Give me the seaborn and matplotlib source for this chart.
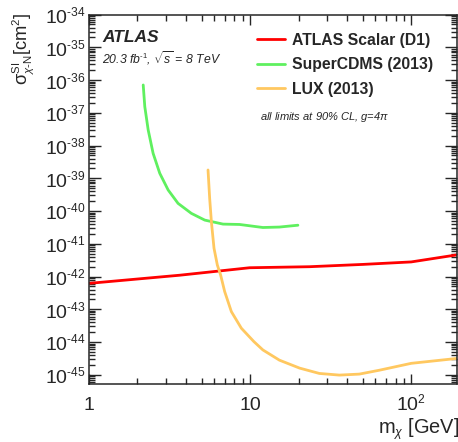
import numpy as np
import pandas as pd
import matplotlib
matplotlib.use('Agg')
import matplotlib.pyplot as plt
import matplotlib.ticker as mticker
import matplotlib._mathtext as mathtext_internals
import seaborn as sns

# values (log-log)
atlas_mass = [1, 3.66, 9.93, 23.4, 50, 100, 192]
atlas_xsec = [6.2e-43, 1.1e-42, 1.86e-42, 2.0e-42, 2.35e-42, 2.8e-42, 4.6e-42]

cdms_mass = [2.17, 2.22, 2.33, 2.50, 2.75, 3.10, 3.57, 4.32, 5.23, 6.79, 8.6, 12.0, 15.2, 19.8]
cdms_xsec = [7.1e-37, 1.54e-37, 3.0e-38, 5.8e-39, 1.42e-39, 4.4e-40, 1.72e-40, 8.5e-41, 5.3e-41,
             4.0e-41, 3.9e-41, 3.15e-41, 3.25e-41, 3.7e-41]

lux_mass = [5.48, 5.61, 5.75, 5.97, 6.26, 6.56, 6.95, 7.65, 8.82, 10.56, 12.0, 15.2, 20.3, 26.9,
            35.8, 47.6, 63.4, 100, 192]
lux_xsec = [1.8e-39, 2.45e-40, 4.7e-41, 7.3e-42, 2.25e-42, 1.12e-42, 3.5e-43, 8.5e-44, 2.65e-44,
            1.03e-44, 5.75e-45, 2.8e-45, 1.6e-45, 1.1e-45, 9.8e-46, 1.05e-45, 1.38e-45, 2.24e-45, 3.16e-45]

sns.set_style('ticks')
plt.rcParams['font.family'] = ['Liberation Sans', 'DejaVu Sans']
plt.rcParams['mathtext.fontset'] = 'custom'
plt.rcParams['mathtext.rm'] = 'Liberation Sans'
plt.rcParams['mathtext.it'] = 'Liberation Sans:italic'
plt.rcParams['mathtext.bf'] = 'Liberation Sans:bold'
# ROOT-style smaller exponents
mathtext_internals.SHRINK_FACTOR = 0.62

fig = plt.figure(figsize=(4.58, 4.42), dpi=100)
ax = fig.add_axes([89 / 458, 57.7 / 442, (456.5 - 89) / 458, (384.3 - 14.6) / 442])

df_atlas = pd.DataFrame({'m': atlas_mass, 'xs': atlas_xsec})
df_cdms = pd.DataFrame({'m': cdms_mass, 'xs': cdms_xsec})
df_lux = pd.DataFrame({'m': lux_mass, 'xs': lux_xsec})

sns.lineplot(data=df_atlas, x='m', y='xs', ax=ax, color='#ff0000', lw=2.0, label='ATLAS Scalar (D1)')
sns.lineplot(data=df_cdms, x='m', y='xs', ax=ax, color='#5ff05f', lw=2.0, label='SuperCDMS (2013)')
sns.lineplot(data=df_lux, x='m', y='xs', ax=ax, color='#ffc860', lw=2.0, label='LUX (2013)')

ax.set_xscale('log')
ax.set_yscale('log')
ax.set_xlim(1, 191)
ax.set_ylim(10 ** -45.29, 1e-34)

ax.xaxis.set_major_locator(mticker.FixedLocator([1, 10, 100]))
ax.xaxis.set_major_formatter(mticker.FixedFormatter(['1', '10', r'$10^{2}$']))
ax.xaxis.set_minor_locator(mticker.LogLocator(base=10, subs=np.arange(2, 10), numticks=20))
ax.xaxis.set_minor_formatter(mticker.NullFormatter())

yt = [10.0 ** e for e in range(-45, -33)]
ax.yaxis.set_major_locator(mticker.FixedLocator(yt))
ax.yaxis.set_major_formatter(mticker.FixedFormatter([r'$10^{\text{-}%d}$' % -e for e in range(-45, -33)]))
ax.yaxis.set_minor_locator(mticker.LogLocator(base=10, subs=np.arange(2, 10), numticks=40))
ax.yaxis.set_minor_formatter(mticker.NullFormatter())

ax.tick_params(which='both', direction='in', top=True, right=True, width=1.0, labelsize=14)
ax.tick_params(axis='y', which='major', length=8.6, pad=2.5)
ax.tick_params(axis='y', which='minor', length=4.3)
ax.tick_params(axis='x', which='major', length=7.2, pad=18.5)
ax.tick_params(axis='x', which='minor', length=4.3)
for s in ax.spines.values():
    s.set_linewidth(1.1)

ax.set_xlabel('')
ax.set_ylabel('')
fig.text(378 / 458, 1 - 434 / 442, r'm$_{\chi}$ [GeV]', fontsize=14.4, ha='left', va='baseline')
fig.text(23 / 458, 1 - 12 / 442, r'$\mathrm{\sigma}^{\rm SI}_{\chi\text{-N}}$[cm$^{2}$]', fontsize=13.2,
         rotation=90, ha='center', va='top')

leg = ax.legend(loc='upper left', bbox_to_anchor=(0.456, 0.951), frameon=False, borderaxespad=0,
                borderpad=0, handlelength=1.8, handletextpad=0.45, labelspacing=0.6,
                prop={'weight': 'bold', 'size': 11.3})

ax.text(0.035, 0.9375, 'ATLAS', transform=ax.transAxes, fontsize=12.5, fontweight='bold', style='italic',
        ha='left', va='center')
ax.text(0.035, 0.883, r'20.3 fb$^{\text{-}1}$, $\sqrt{s}$ = 8 TeV', transform=ax.transAxes, fontsize=8.8,
        style='italic', ha='left', va='center')
ax.text(0.465, 0.724, r'all limits at 90% CL, g=4$\pi$', transform=ax.transAxes, fontsize=8,
        style='italic', ha='left', va='center')

for t in ax.get_xticklabels():
    t.set_verticalalignment('baseline')

fig.savefig('out.png', dpi=100)
